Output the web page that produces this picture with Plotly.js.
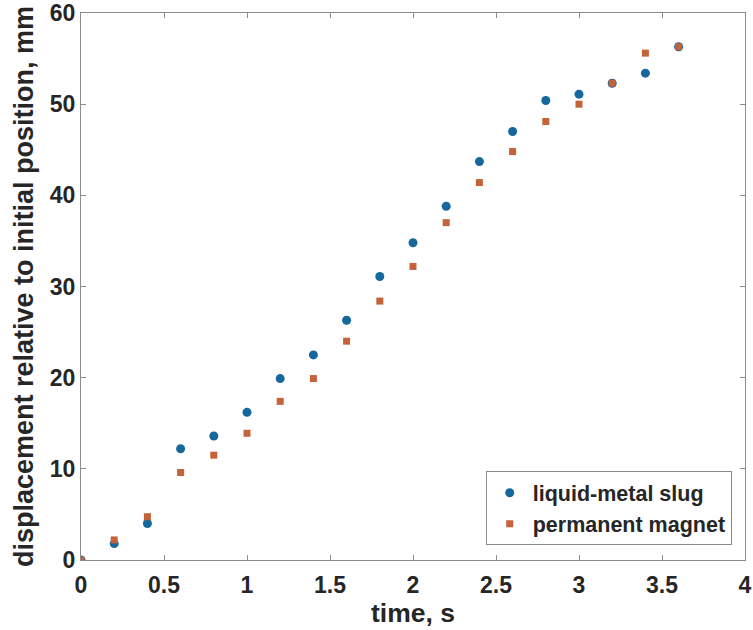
<!DOCTYPE html>
<html>
<head>
<meta charset="utf-8">
<script src="https://cdn.plot.ly/plotly-3.0.1.min.js"></script>
<style>html,body{margin:0;padding:0;background:#fff;}#chart{width:753px;height:630px;}</style>
</head>
<body>
<div id="chart"></div>
<script>
const timeS = [0, 0.2, 0.4, 0.6, 0.8, 1.0, 1.2, 1.4, 1.6, 1.8, 2.0, 2.2, 2.4, 2.6, 2.8, 3.0, 3.2, 3.4, 3.6];
const liquidMetalSlug = [0, 1.8, 4.0, 12.2, 13.6, 16.2, 19.9, 22.5, 26.3, 31.1, 34.8, 38.8, 43.7, 47.0, 50.4, 51.1, 52.3, 53.4, 56.3];
const permanentMagnet = [0, 2.2, 4.75, 9.6, 11.5, 13.9, 17.4, 19.9, 24.0, 28.4, 32.2, 37.0, 41.4, 44.8, 48.1, 50.0, 52.3, 55.6, 56.3];
const seriesNames = ["liquid-metal slug", "permanent magnet"];

const txt = '#262626';
const fontFam = 'Liberation Sans, Arial, sans-serif';

const traces = [
  {x: timeS, y: liquidMetalSlug, name: seriesNames[0], type: 'scatter', mode: 'markers',
   marker: {symbol: 'circle', size: 9, color: '#17679F'}},
  {x: timeS, y: permanentMagnet, name: seriesNames[1], type: 'scatter', mode: 'markers',
   marker: {symbol: 'square', size: 7, color: '#C4623A'}}
];

const axisCommon = {
  showline: true, mirror: 'ticks', linecolor: '#8c8c8c', linewidth: 1,
  ticks: 'inside', ticklen: 5, tickcolor: '#8c8c8c', showgrid: false, zeroline: false,
  automargin: false,
  tickfont: {family: fontFam, size: 23, color: txt, weight: 'bold'}
};

const layout = {
  width: 753, height: 630,
  margin: {l: 81, r: 8, t: 13, b: 70},
  paper_bgcolor: '#fff', plot_bgcolor: '#fff',
  showlegend: true,
  legend: {x: 0.98, y: 0.027, xanchor: 'right', yanchor: 'bottom',
    bordercolor: '#8c8c8c', borderwidth: 1, bgcolor: '#fff',
    font: {family: fontFam, size: 21.5, color: txt, weight: 'bold'},
    itemwidth: 36, tracegroupgap: 0},
  xaxis: Object.assign({}, axisCommon, {range: [0, 4], dtick: 0.5, tick0: 0, ticklabelstandoff: 4,
    title: {text: 'time, s', standoff: 6, font: {family: fontFam, size: 26.5, color: txt, weight: 'bold'}}}),
  yaxis: Object.assign({}, axisCommon, {range: [0, 60], dtick: 10, tick0: 0,
    title: {text: 'displacement relative to initial position, mm', standoff: 8, font: {family: fontFam, size: 27, color: txt, weight: 'bold'}}})
};

Plotly.newPlot('chart', traces, layout, {displayModeBar: false, staticPlot: true});
</script>
</body>
</html>
